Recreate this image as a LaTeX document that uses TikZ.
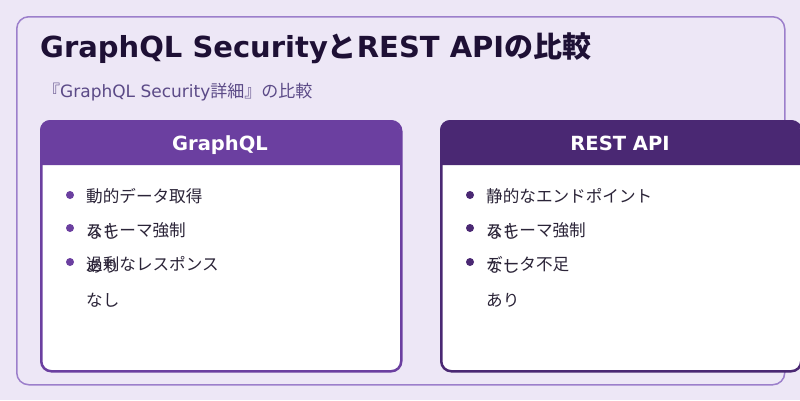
\documentclass[tikz,border=0pt]{standalone}
\usepackage{fontspec}
\setmainfont{DejaVu Sans}
\newfontfamily\cjk{Noto Sans CJK JP}
\definecolor{bgc}{HTML}{EDE7F6}
\definecolor{framec}{HTML}{9C7FCB}
\definecolor{gqlc}{HTML}{6B3FA0}
\definecolor{restc}{HTML}{4A2873}
\definecolor{titlec}{HTML}{1E1035}
\definecolor{subc}{HTML}{5B4A87}
\definecolor{bodyc}{HTML}{2B2438}
\begin{document}
\begin{tikzpicture}[x=1pt,y=-1pt,
  txt/.style={anchor=base west, inner sep=0pt, text=bodyc, font=\fontsize{16.6}{20}\selectfont\cjk},
  card/.style={draw=#1, fill=white, line width=2.5pt, rounded corners=10pt, minimum width=360pt, minimum height=250pt, anchor=north west, inner sep=0pt},
  hdrtxt/.style={anchor=base, inner sep=0pt, text=white, font=\fontsize{19.5}{24}\selectfont\bfseries},
  dot/.style={circle, fill=#1, inner sep=0pt, minimum size=8pt}]
\useasboundingbox (0,0) rectangle (800,400);
\fill[bgc] (0,0) rectangle (800,400);
\node[draw=framec, line width=1.5pt, rounded corners=12pt, minimum width=768pt, minimum height=368pt, anchor=north west, inner sep=0pt] (frame) at (16,16) {};
\node[anchor=base west, inner sep=0pt, text=titlec, font=\fontsize{29}{35}\selectfont\bfseries] (title) at (40,57) {GraphQL Security{\cjk と}REST API{\cjk の比較}};
\node[anchor=base west, inner sep=0pt, text=subc, font=\fontsize{17}{21}\selectfont] (sub) at (43,97) {{\cjk 『}GraphQL Security{\cjk 詳細』の比較}};
% GraphQL card
\node[card=gqlc] (gcard) at (40,120) {};
\fill[gqlc] (40,165) [rounded corners=10pt]-- (40,120) -- (400,120) [sharp corners]-- (400,165) -- cycle;
\node[hdrtxt] (ghead) at (220,150) {GraphQL};
\node[dot=gqlc] (gb1) at (70,195) {};
\node[dot=gqlc] (gb2) at (70,228) {};
\node[dot=gqlc] (gb3) at (70,262) {};
\node[txt] (g1) at (86,202) {動的データ取得};
\node[txt] (g2) at (86,236) {スキーマ強制};
\node[txt] (g2v) at (86,238) {なし};
\node[txt] (g3) at (86,270) {過剰なレスポンス};
\node[txt] (g3v) at (86,272) {あり};
\node[txt] (g4v) at (86,306) {なし};
% REST card
\node[card=restc] (rcard) at (440,120) {};
\fill[restc] (440,165) [rounded corners=10pt]-- (440,120) -- (800,120) [sharp corners]-- (800,165) -- cycle;
\node[hdrtxt] (rhead) at (620,150) {REST API};
\node[dot=restc] (rb1) at (470,195) {};
\node[dot=restc] (rb2) at (470,228) {};
\node[dot=restc] (rb3) at (470,262) {};
\node[txt] (r1) at (486,202) {静的なエンドポイント};
\node[txt] (r2) at (486,236) {スキーマ強制};
\node[txt] (r2v) at (486,238) {なし};
\node[txt] (r3) at (486,270) {データ不足};
\node[txt] (r3v) at (486,272) {なし};
\node[txt] (r4v) at (486,306) {あり};
\end{tikzpicture}
\end{document}
